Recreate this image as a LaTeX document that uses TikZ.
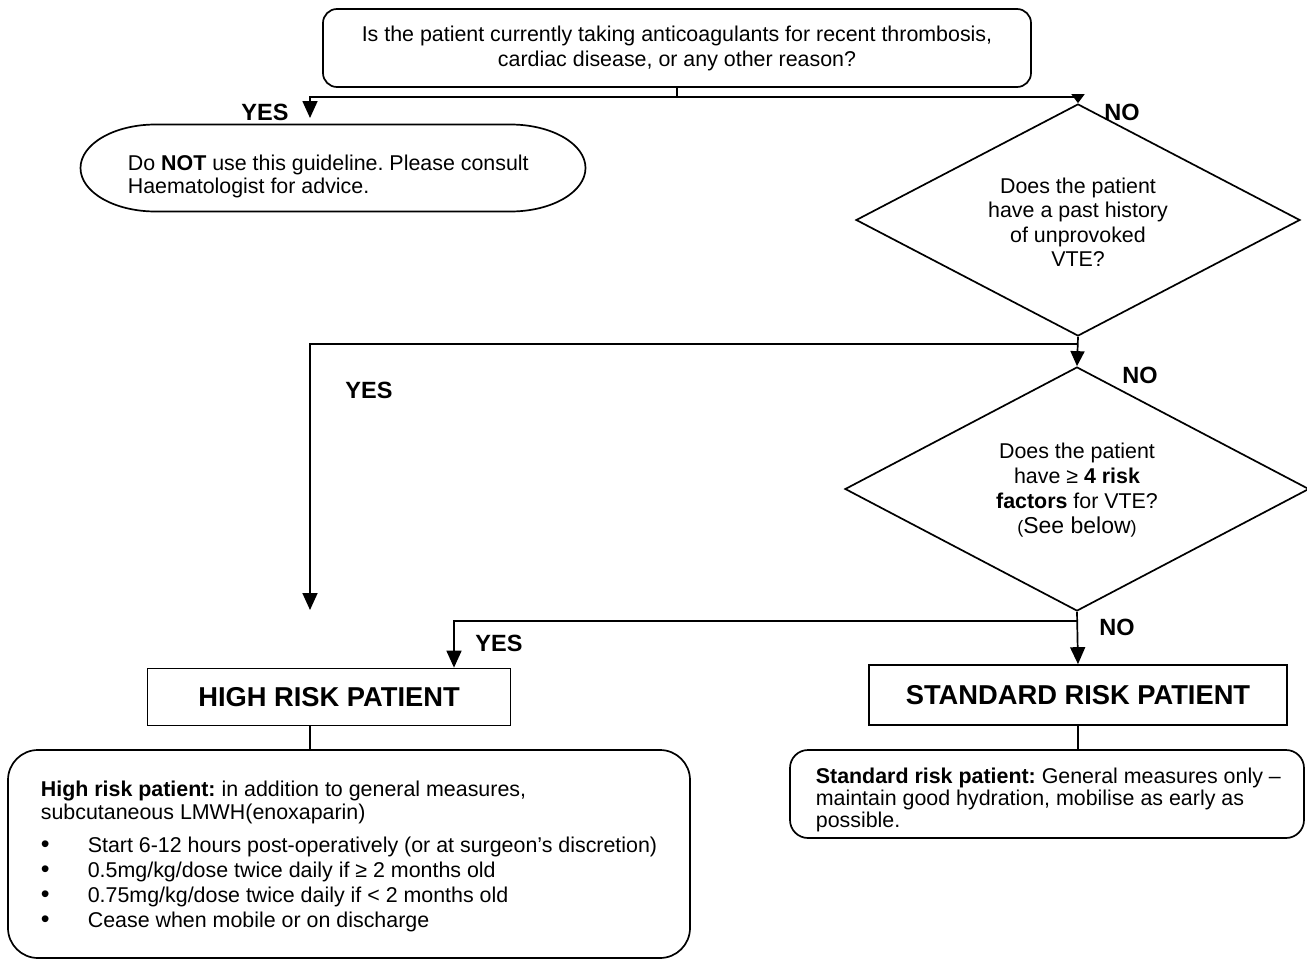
\documentclass[tikz,border=0pt]{standalone}
\usepackage{fontspec}
\setmainfont{Liberation Sans}
\usetikzlibrary{arrows.meta,shapes.geometric}
\frenchspacing
\begin{document}
\begin{tikzpicture}[x=1pt,y=-1pt,line width=1.7pt,
  arr/.style={-{Triangle[length=17pt,width=15pt]}},
  body/.style={font=\fontsize{21.4}{25}\selectfont\frenchspacing, inner sep=0pt},
  lbl/.style={font=\fontsize{23.5}{26}\selectfont\bfseries, inner sep=0pt},
  head/.style={draw, font=\fontsize{27.3}{30}\selectfont\bfseries, inner sep=0pt},
  qbox/.style={draw, rounded corners=14pt, inner sep=0pt},
  dec/.style={draw, diamond, inner sep=0pt}]
\useasboundingbox (0,0) rectangle (1307,961);
\newcommand{\blt}{\makebox[47pt][l]{\fontsize{25}{25}\selectfont •}}

% top question
\node[qbox, minimum width=708pt, minimum height=78pt, body, align=center] (q1) at (677,48)
  {Is the patient currently taking anticoagulants for recent thrombosis,\\cardiac disease, or any other reason?};

% oval
\node[minimum width=505pt, minimum height=87pt, inner sep=0pt, outer sep=0pt] (ov) at (333,168) {};
\draw ([xshift=75pt]ov.north west) -- ([xshift=-75pt]ov.north east)
  arc[start angle=90,end angle=-90,x radius=75pt,y radius=43.5pt]
  -- ([xshift=75pt]ov.south west)
  arc[start angle=270,end angle=90,x radius=75pt,y radius=43.5pt] -- cycle;
\node[body, anchor=base west] (ov1) at (127,170) {Do \textbf{NOT} use this guideline. Please consult};
\node[body, anchor=base west] (ov2) at (127,193) {Haematologist for advice.};

% diamonds
\node[dec, minimum width=444pt, minimum height=232pt] (d1) at (1078,220) {};
\node[body, align=center, font=\fontsize{21.4}{24.5}\selectfont] (d1t) at (1078,222)
  {Does the patient\\have a past history\\of unprovoked\\VTE?};
\node[dec, minimum width=464pt, minimum height=244pt] (d2) at (1077,489) {};
\node[body, align=center, font=\fontsize{21.4}{25}\selectfont] (d2t) at (1077,490)
  {Does the patient\\have \char"2265\ \textbf{4 risk}\\\textbf{factors} for VTE?\\{\fontsize{18}{25}\selectfont(}{\fontsize{23}{25}\selectfont See below}{\fontsize{18}{25}\selectfont)}};

% result boxes
\node[head, minimum width=363pt, minimum height=57pt] (hr) at (329,697) {\raisebox{-3pt}{HIGH RISK PATIENT}};
\node[head, minimum width=418pt, minimum height=60pt] (sr) at (1078,695) {\raisebox{-3pt}{STANDARD RISK PATIENT}};

% text boxes
\node[draw, rounded corners=30pt, minimum width=682pt, minimum height=208pt, inner sep=0pt] (hb) at (349,854) {};
\node[draw, rounded corners=18pt, minimum width=514pt, minimum height=88pt, inner sep=0pt] (sb) at (1047,794) {};

\node[body, anchor=base west] (h1) at (40,796) {\textbf{High risk patient:} in addition to general measures,};
\node[body, anchor=base west] (h2) at (40,819) {subcutaneous LMWH(enoxaparin)};
\node[body, anchor=base west] (b1) at (40,852) {\blt Start 6-12 hours post-operatively (or at surgeon’s discretion)};
\node[body, anchor=base west] (b2) at (40,877) {\blt 0.5mg/kg/dose twice daily if \char"2265\ 2 months old};
\node[body, anchor=base west] (b3) at (40,902) {\blt 0.75mg/kg/dose twice daily if < 2 months old};
\node[body, anchor=base west] (b4) at (40,927) {\blt Cease when mobile or on discharge};

\node[body, anchor=base west] (s1) at (815,783) {\textbf{Standard risk patient:} General measures only –};
\node[body, anchor=base west] (s2) at (815,805) {maintain good hydration, mobilise as early as};
\node[body, anchor=base west] (s3) at (815,827) {possible.};

% labels
\node[lbl] (yes1) at (265,112) {YES};
\node[lbl] (no1) at (1122,112) {NO};
\node[lbl] (no2) at (1140,375) {NO};
\node[lbl] (yes2) at (369,390) {YES};
\node[lbl] (no3) at (1117,627) {NO};
\node[lbl] (yes3) at (499,643) {YES};

% connectors
\path (q1.south) ++(0,9) coordinate (j0);
\coordinate (ay) at (310,118);
\draw (q1.south) -- (j0);
\draw[arr] (j0) -| (ay);
\draw[-{Triangle[length=9pt,width=13pt]}] (j0) -| (d1.north);

\path (d1.south) ++(0,7) coordinate (j1);
\coordinate (a2) at (310,610);
\draw[-{Triangle[length=15pt,width=14pt]}] (d1.south) -- (d2.north);
\draw[arr] (j1) -| (a2);

\path (d2.south) ++(0,9) coordinate (j2);
\draw[arr] (d2.south) -- (sr.north);
\draw[arr] (j2) -| ([xshift=125pt]hr.north);

\draw ([xshift=-19pt]hr.south) -- ([xshift=-19pt]hr.south |- hb.north);
\draw (sr.south) -- (sr.south |- sb.north);
\end{tikzpicture}
\end{document}
